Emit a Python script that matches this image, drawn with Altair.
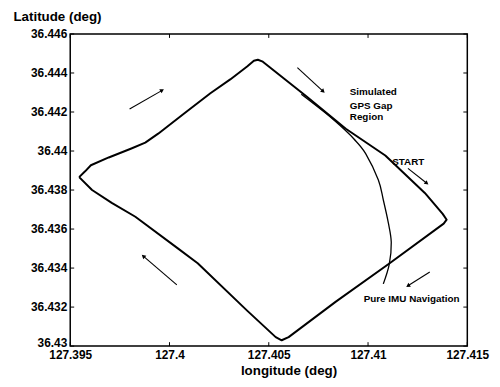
import math
import altair as alt
import pandas as pd

# ---- data ----
path_lon = [127.39545, 127.39575, 127.39604, 127.39694, 127.39808, 127.39878, 127.39943,
            127.40077, 127.40206, 127.40306, 127.40391, 127.40425, 127.40445, 127.40470,
            127.40689, 127.40888, 127.41087, 127.41286, 127.41376, 127.41396, 127.41381,
            127.41102, 127.40838, 127.40600, 127.40565, 127.40535, 127.40391, 127.40142,
            127.40042, 127.39828, 127.39709, 127.39610, 127.39545]
path_lat = [36.43866, 36.43896, 36.43927, 36.43967, 36.44013, 36.44043, 36.44089,
            36.44195, 36.44296, 36.44367, 36.44433, 36.44463, 36.44468, 36.44458,
            36.44281, 36.44114, 36.43977, 36.43785, 36.43678, 36.43648, 36.43628,
            36.43420, 36.43228, 36.43046, 36.43030, 36.43046, 36.43182, 36.43425,
            36.43501, 36.43663, 36.43734, 36.43800, 36.43866]

imu_lon = [127.40664, 127.40789, 127.40888, 127.40928, 127.40988, 127.41052, 127.41077,
           127.41102, 127.41117, 127.41107, 127.41077]
imu_lat = [36.44291, 36.44192, 36.44104, 36.44063, 36.43987, 36.43851, 36.43749,
           36.43633, 36.43532, 36.43420, 36.43319]

arrow_lon0 = [127.39799, 127.40644, 127.41201, 127.41311, 127.40037]
arrow_lat0 = [36.44215, 36.44428, 36.43911, 36.43380, 36.43314]
arrow_lon1 = [127.39963, 127.40774, 127.41296, 127.41201, 127.39868]
arrow_lat1 = [36.44311, 36.44306, 36.43835, 36.43309, 36.43461]

label_text = ["Simulated", "GPS Gap", "Region", "START", "Pure IMU Navigation"]
label_lon = [127.40908, 127.40908, 127.40908, 127.41122, 127.40978]
label_lat = [36.44301, 36.44233, 36.44174, 36.43942, 36.43243]

x_ticks = [127.395, 127.4, 127.405, 127.41, 127.415]
y_ticks = [36.43, 36.432, 36.434, 36.436, 36.438, 36.44, 36.442, 36.444, 36.446]
y_tick_labels = ["36.43", "36.432", "36.434", "36.436", "36.438", "36.44", "36.442",
                 "36.444", "36.446"]

W, H = 402, 316
XD = [127.395, 127.415]
YD = [36.43, 36.446]
FONT = "Liberation Sans"

path_df = pd.DataFrame({"lon": path_lon, "lat": path_lat, "i": range(len(path_lon))})
imu_df = pd.DataFrame({"lon": imu_lon, "lat": imu_lat, "i": range(len(imu_lon))})

px_lon = W / (XD[1] - XD[0])
px_lat = H / (YD[1] - YD[0])
angles = []
for a0, b0, a1, b1 in zip(arrow_lon0, arrow_lat0, arrow_lon1, arrow_lat1):
    dx = (a1 - a0) * px_lon
    dy = -(b1 - b0) * px_lat
    angles.append(math.degrees(math.atan2(dx, -dy)) % 360)
arrow_df = pd.DataFrame({"lon0": arrow_lon0, "lat0": arrow_lat0,
                         "lon1": arrow_lon1, "lat1": arrow_lat1, "ang": angles})
label_df = pd.DataFrame({"t": label_text, "lon": label_lon, "lat": label_lat})
xt_df = pd.DataFrame({"v": x_ticks})
yt_df = pd.DataFrame({"v": y_ticks, "lab": y_tick_labels})

xs = alt.Scale(domain=XD, nice=False, zero=False)
ys = alt.Scale(domain=YD, nice=False, zero=False)

x_axis = alt.Axis(values=x_ticks, format="~g", title="longitude (deg)",
                  titleX=221, titleY=29)
y_axis = alt.Axis(values=y_ticks, labels=False, title="Latitude (deg)",
                  titleAngle=0, titleX=-58, titleY=-14, titleAlign="left")

main = alt.Chart(path_df).mark_line(color="black", strokeWidth=2, strokeJoin="round").encode(
    x=alt.X("lon:Q", scale=xs, axis=x_axis),
    y=alt.Y("lat:Q", scale=ys, axis=y_axis),
    order="i:Q",
)
imu = alt.Chart(imu_df).mark_line(color="black", strokeWidth=1.3, interpolate="cardinal").encode(
    x="lon:Q", y="lat:Q", order="i:Q"
)
arrows = alt.Chart(arrow_df).mark_rule(color="black", strokeWidth=1.1).encode(
    x="lon0:Q", y="lat0:Q", x2="lon1:Q", y2="lat1:Q"
)
heads = alt.Chart(arrow_df).mark_point(shape="triangle-up", filled=True, color="black",
                                       size=22, opacity=1).encode(
    x="lon1:Q", y="lat1:Q", angle=alt.Angle("ang:Q", scale=None)
)
labels = alt.Chart(label_df).mark_text(align="left", baseline="middle", font=FONT,
                                       fontWeight="bold", fontSize=10, color="black").encode(
    x="lon:Q", y="lat:Q", text="t:N"
)
ylab_text = dict(align="right", baseline="middle", font=FONT, fontWeight="bold",
                 fontSize=12, color="black")
ylabels = alt.Chart(yt_df).transform_filter("datum.v > 36.431").mark_text(**ylab_text).encode(
    y="v:Q", x=alt.value(-3), text="lab:N")
ylabel_low = alt.Chart(yt_df).transform_filter("datum.v < 36.431").mark_text(
    dy=-3, **ylab_text).encode(y="v:Q", x=alt.value(-3), text="lab:N")
t_bottom = alt.Chart(xt_df).mark_rule(color="black", strokeWidth=1).encode(
    x="v:Q", y=alt.value(H), y2=alt.value(H - 4))
t_top = alt.Chart(xt_df).mark_rule(color="black", strokeWidth=1).encode(
    x="v:Q", y=alt.value(0), y2=alt.value(4))
t_left = alt.Chart(yt_df).mark_rule(color="black", strokeWidth=1).encode(
    y="v:Q", x=alt.value(0), x2=alt.value(4))
t_right = alt.Chart(yt_df).mark_rule(color="black", strokeWidth=1).encode(
    y="v:Q", x=alt.value(W), x2=alt.value(W - 4))

chart = alt.layer(main, imu, arrows, heads, labels, ylabels, ylabel_low,
                  t_bottom, t_top, t_left, t_right).properties(
    width=W, height=H,
    background="white",
    autosize=alt.AutoSizeParams(type="none"),
    padding={"left": 63, "top": 24, "right": 25, "bottom": 31},
).configure_axis(
    grid=False, domain=False, ticks=False, tickSize=0, labelPadding=4,
    labelFont=FONT, labelFontSize=12, labelFontWeight="bold", labelColor="black",
    titleFont=FONT, titleFontSize=13.5, titleFontWeight="bold", titleColor="black",
    titleBaseline="alphabetic", labelFlush=False, labelOverlap=False,
).configure_axisX(titleAlign="center").configure_view(stroke="black", strokeWidth=1.5)

chart.save("out.html", embed_options={"renderer": "svg", "actions": False})
